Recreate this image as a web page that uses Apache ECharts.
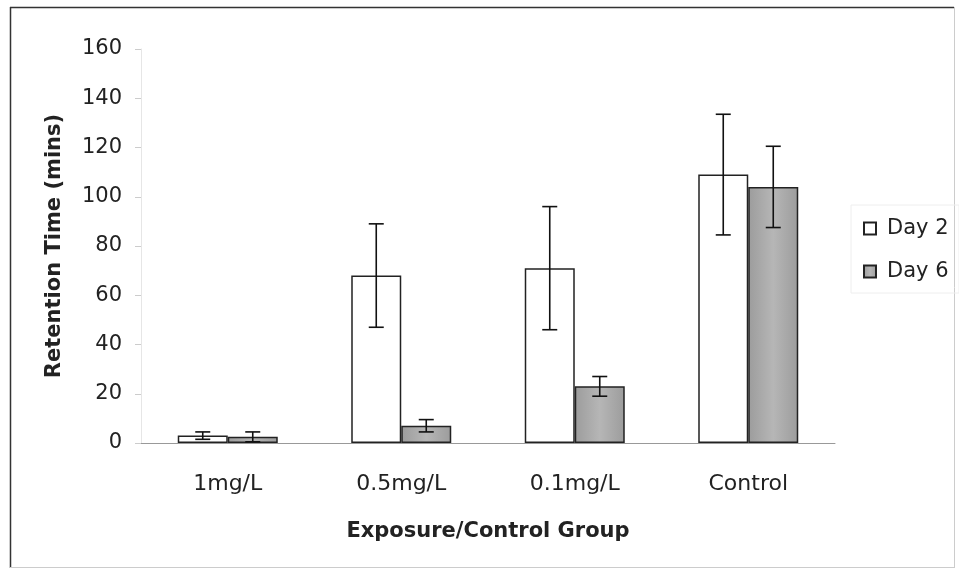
<!DOCTYPE html>
<html>
<head>
<meta charset="utf-8">
<script src="https://cdn.jsdelivr.net/npm/echarts@6/dist/echarts.min.js"></script>
<style>
html,body{margin:0;padding:0;background:#fff;}
#chart{width:959px;height:573px;}
</style>
</head>
<body>
<div id="chart"></div>
<script>
var categories = ['1mg/L', '0.5mg/L', '0.1mg/L', 'Control'];
var day2 = [3, 68, 71, 109];
var day6 = [2.5, 7, 23, 104];
var errDay2 = [1.5, 21, 25, 24.5];
var errDay6 = [2, 2.5, 4, 16.5];
var yTicks = [0, 20, 40, 60, 80, 100, 120, 140, 160];

var FONT = 'DejaVu Sans, Arial, sans-serif';
var BAR_W = 50;

var grayFill = {
  type: 'linear', x: 0, y: 0, x2: 1, y2: 0,
  colorStops: [
    {offset: 0, color: '#9c9c9c'},
    {offset: 0.5, color: '#b6b6b6'},
    {offset: 1, color: '#9c9c9c'}
  ]
};

function errSeries(vals, errs, side) {
  return {
    type: 'custom',
    z: 10,
    silent: true,
    data: vals.map(function (v, i) { return [i, v - errs[i], v + errs[i]]; }),
    renderItem: function (params, api) {
      var lo = api.coord([api.value(0), api.value(1)]);
      var hi = api.coord([api.value(0), api.value(2)]);
      var x = lo[0] + side * BAR_W / 2;
      var cap = 7.5;
      var st = {stroke: '#111', lineWidth: 1.6};
      return {
        type: 'group',
        children: [
          {type: 'line', shape: {x1: x, y1: lo[1], x2: x, y2: hi[1]}, style: st},
          {type: 'line', shape: {x1: x - cap, y1: lo[1], x2: x + cap, y2: lo[1]}, style: st},
          {type: 'line', shape: {x1: x - cap, y1: hi[1], x2: x + cap, y2: hi[1]}, style: st}
        ]
      };
    }
  };
}

var chart = echarts.init(document.getElementById('chart'), null, {renderer: 'canvas'});
chart.setOption({
  animation: false,
  backgroundColor: '#fff',
  textStyle: {fontFamily: FONT},
  graphic: [
    {type: 'line', shape: {x1: 10, y1: 7.5, x2: 954, y2: 7.5}, style: {stroke: '#333', lineWidth: 1.5}},
    {type: 'line', shape: {x1: 10.5, y1: 7, x2: 10.5, y2: 568}, style: {stroke: '#333', lineWidth: 1.5}},
    {type: 'line', shape: {x1: 954.5, y1: 7, x2: 954.5, y2: 568}, style: {stroke: '#ccc', lineWidth: 1}},
    {type: 'line', shape: {x1: 10, y1: 567.5, x2: 954, y2: 567.5}, style: {stroke: '#ccc', lineWidth: 1}},
    {type: 'rect', shape: {x: 851, y: 205, width: 108, height: 88}, style: {fill: 'none', stroke: '#eee', lineWidth: 1}}
  ],
  legend: {
    orient: 'vertical',
    left: 858,
    top: 213,
    itemWidth: 12,
    itemHeight: 12,
    itemGap: 22,
    icon: 'rect',
    textStyle: {fontSize: 21, color: '#222', fontFamily: FONT, padding: [0, 0, 0, 6]},
    data: ['Day 2', 'Day 6']
  },
  grid: {left: 141, right: 124, top: 49, bottom: 130},
  xAxis: {
    type: 'category',
    data: categories,
    name: 'Exposure/Control Group',
    nameLocation: 'middle',
    nameGap: 78,
    nameTextStyle: {fontSize: 21, fontWeight: 'bold', color: '#222', fontFamily: FONT},
    axisLine: {lineStyle: {color: '#999', width: 1}},
    axisTick: {show: false},
    axisLabel: {fontSize: 22, color: '#222', margin: 30, fontFamily: FONT},
    splitLine: {show: false}
  },
  yAxis: {
    type: 'value',
    min: 0,
    max: 160,
    interval: 20,
    name: 'Retention Time (mins)',
    nameLocation: 'middle',
    nameGap: 76,
    nameTextStyle: {fontSize: 21, fontWeight: 'bold', color: '#222', fontFamily: FONT},
    axisLine: {show: true, lineStyle: {color: '#e6e6e6'}},
    axisTick: {show: true, length: 6, lineStyle: {color: '#ccc'}},
    axisLabel: {fontSize: 21, color: '#222', margin: 19, fontFamily: FONT,
      formatter: function (v) { return yTicks.indexOf(v) >= 0 ? String(v) : ''; }},
    splitLine: {show: false}
  },
  series: [
    {
      name: 'Day 2',
      type: 'bar',
      data: day2,
      barWidth: BAR_W,
      barGap: '0%',
      itemStyle: {color: '#fff', borderColor: '#222', borderWidth: 1.5}
    },
    {
      name: 'Day 6',
      type: 'bar',
      data: day6,
      barWidth: BAR_W,
      barGap: '0%',
      itemStyle: {color: grayFill, borderColor: '#222', borderWidth: 1.5}
    },
    errSeries(day2, errDay2, -1),
    errSeries(day6, errDay6, 1)
  ]
});
</script>
</body>
</html>
